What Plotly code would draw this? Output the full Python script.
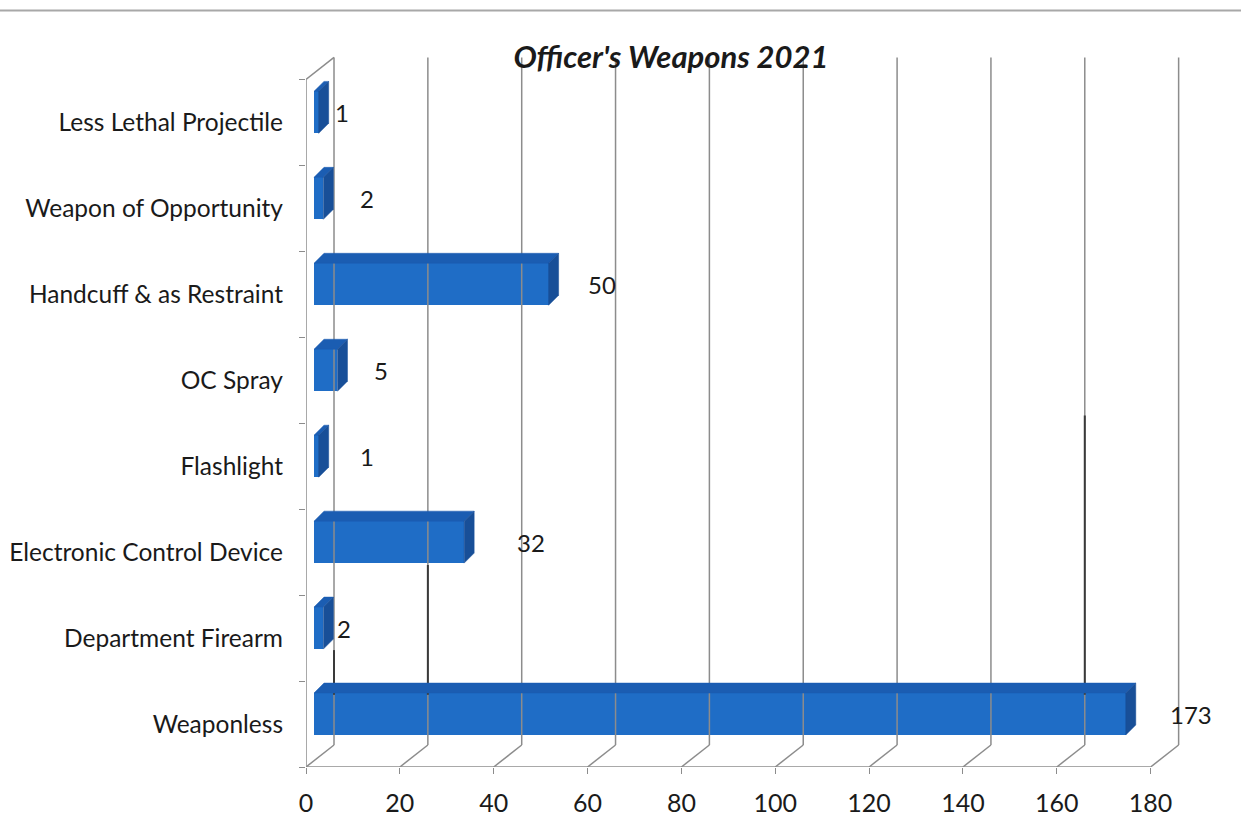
import plotly.graph_objects as go

# ---- data -------------------------------------------------------------
categories = [
    "Weaponless",
    "Department Firearm",
    "Electronic Control Device",
    "Flashlight",
    "OC Spray",
    "Handcuff & as Restraint",
    "Weapon of Opportunity",
    "Less Lethal Projectile",
]
counts = [173, 2, 32, 1, 5, 50, 2, 1]
x_ticks = [0, 20, 40, 60, 80, 100, 120, 140, 160, 180]

# ---- pseudo-3D geometry (pixel sizes converted to data units) ------------
PX_X = 4.69          # pixels per count on the x axis
PX_Y = 86.0          # pixels per category slot
X_MAX = 195
Y_MIN, Y_MAX = -0.5, 7.9

wall_dx, wall_dy = 28 / PX_X, 22 / PX_Y     # depth of the floor / side wall
bar_x0 = 8 / PX_X                            # bar start inside the wall
bar_lift = 10 / PX_Y                         # bars sit at mid-depth
bar_h = 42 / PX_Y                            # bar thickness
bar_dx, bar_dy = 10 / PX_X, 10 / PX_Y        # bar depth faces

FRONT = "#1F6DC6"
TOP = "#1B5DB2"
SIDE = "#184F98"
GRID = "#8C8C8C"
TEXT = "#1A1A1A"
FONT = "Lato"

fig = go.Figure()


def line(xs, ys, color=GRID, width=1.5):
    fig.add_trace(go.Scatter(x=xs, y=ys, mode="lines",
                             line=dict(color=color, width=width),
                             hoverinfo="skip", showlegend=False))


def poly(xs, ys, color):
    fig.add_trace(go.Scatter(x=xs + [xs[0]], y=ys + [ys[0]], mode="lines",
                             fill="toself", fillcolor=color,
                             line=dict(color=color, width=0.5),
                             hoverinfo="skip", showlegend=False))


n = len(categories)
top_front = n - 0.5
back_base = Y_MIN + wall_dy

# floor: front edge and diagonals to the back wall
line([0, x_ticks[-1]], [Y_MIN, Y_MIN])
for v in x_ticks:
    line([v, v + wall_dx], [Y_MIN, back_base])
    # back-wall vertical gridlines
    line([v + wall_dx, v + wall_dx], [back_base, top_front + wall_dy])

# left side wall
line([0, 0], [Y_MIN, top_front])
line([0, wall_dx], [top_front, top_front + wall_dy])

# darker gridline segments behind the lowest bars
line([20 + wall_dx] * 2, [0.34, 1.85], color="#3A3A3A", width=2)
line([0 + wall_dx] * 2, [0.34, 0.86], color="#3A3A3A", width=2)
line([160 + wall_dx] * 2, [0.34, 3.59], color="#3A3A3A", width=2)

# bar front faces
ys = [i + bar_lift for i in range(n)]
fig.add_trace(go.Bar(
    x=counts, y=ys, base=bar_x0, orientation="h", width=bar_h,
    marker=dict(color=FRONT, line=dict(width=0)),
    hoverinfo="skip", showlegend=False,
))

# bar top and side faces
for yc, v in zip(ys, counts):
    x1 = bar_x0 + v
    yt, yb = yc + bar_h / 2, yc - bar_h / 2
    poly([bar_x0, x1, x1 + bar_dx, bar_x0 + bar_dx],
         [yt, yt, yt + bar_dy, yt + bar_dy], TOP)
    poly([x1, x1 + bar_dx, x1 + bar_dx, x1],
         [yb, yb + bar_dy, yt + bar_dy, yt], SIDE)

# value labels
label_nudge = [15.5, 6, 16, 12, 11, 13, 11, 6.7]
for yc, v, dn in zip(ys, counts, label_nudge):
    fig.add_annotation(x=v + dn, y=yc, text=str(v), showarrow=False,
                       font=dict(family=FONT, size=24, color=TEXT),
                       xanchor="center", yanchor="middle")

L, R = 306, 1241 - 306 - X_MAX * PX_X
B = 822 - 767
PLOT_H = (Y_MAX - Y_MIN) * PX_Y
T = 822 - B - PLOT_H

# horizontal rule across the top of the page
rule_y = 1 + (T - 10) / PLOT_H
fig.add_shape(type="line", xref="paper", yref="paper",
              x0=-1, x1=2, y0=rule_y, y1=rule_y,
              line=dict(color="#A8A8A8", width=2), layer="above")

fig.update_layout(
    width=1241, height=822,
    margin=dict(l=L, r=R, t=T, b=B, autoexpand=False),
    paper_bgcolor="white", plot_bgcolor="white",
    title=dict(text="<b><i>Officer's Weapons 2021</i></b>",
               x=671 / 1241, xanchor="center", y=1 - 57 / 822, yanchor="middle",
               font=dict(family=FONT, size=31, color=TEXT)),
    xaxis=dict(range=[0, X_MAX], tickvals=x_ticks, ticks="outside",
               ticklen=6, tickcolor=GRID, showgrid=False, zeroline=False,
               showline=False, automargin=False, ticklabelstandoff=8,
               tickfont=dict(family=FONT, size=25, color=TEXT)),
    yaxis=dict(range=[Y_MIN, Y_MAX], tickvals=list(range(n)),
               ticktext=categories, ticks="", showgrid=False, zeroline=False,
               showline=False, ticklabelstandoff=22, automargin=False,
               tickfont=dict(family=FONT, size=24.5, color=TEXT),
               minor=dict(tickvals=[k - 0.5 for k in range(n + 1)],
                          ticks="outside", ticklen=6, tickcolor=GRID)),
    bargap=0,
)

fig.write_html("out.html")
